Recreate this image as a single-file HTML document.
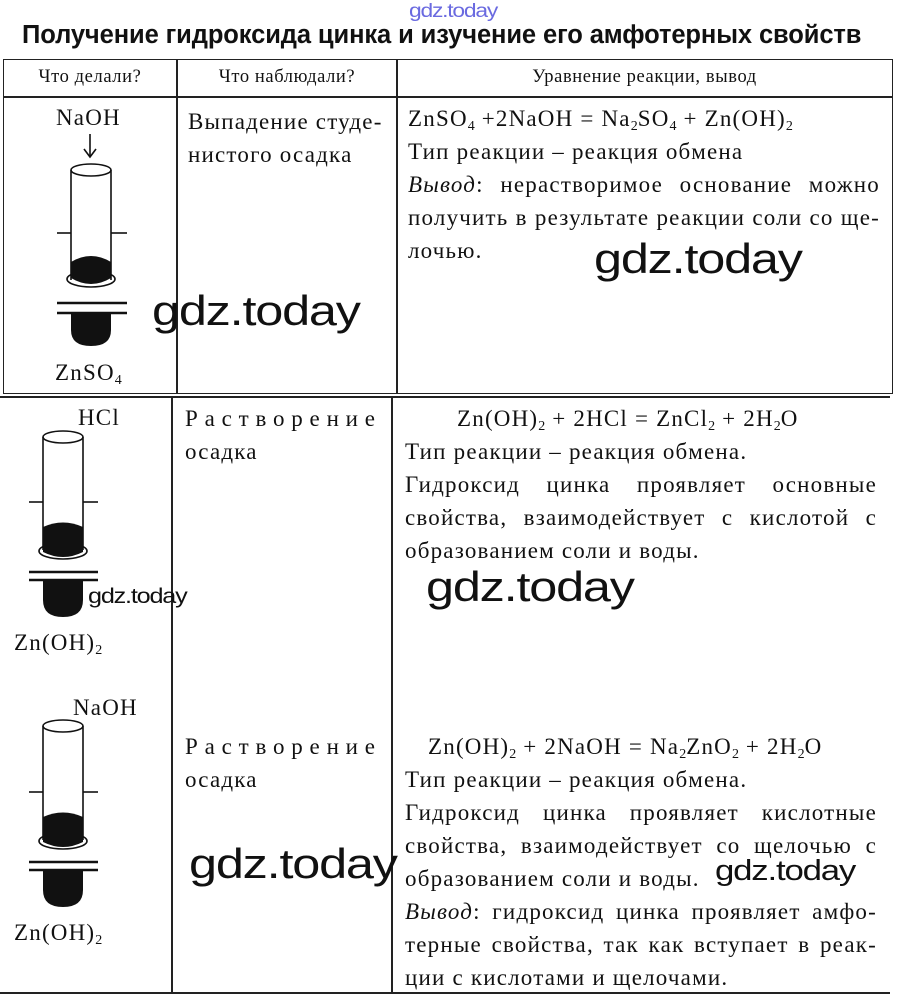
<!DOCTYPE html>
<html><head><meta charset="utf-8"><style>
body{margin:0;width:900px;height:999px;background:#fff;position:relative;overflow:hidden;font-family:"Liberation Serif","DejaVu Serif",serif;color:#111}
.a{position:absolute;white-space:nowrap}
.t{font-size:23px;letter-spacing:1.2px}
.j{position:absolute;font-size:23px;line-height:33px;letter-spacing:1.2px}
.j div{white-space:nowrap}
.jl{text-align:justify;text-align-last:justify;white-space:normal!important}
.sp{letter-spacing:6.8px}
.wm{position:absolute;font-family:"Liberation Sans",sans-serif;color:#111;white-space:nowrap;letter-spacing:-1px;transform:scaleX(1.2);transform-origin:left top}
.h{font-size:18.5px;position:absolute;text-align:center;letter-spacing:0.6px}
sub{font-size:14px;vertical-align:-4px;line-height:0;letter-spacing:0}
.ln{position:absolute;background:#222}
</style></head><body>
<div class="wm" style="left:409px;top:1px;font-size:19px;color:#6a6ae0">gdz.today</div>
<div class="a" style="left:22px;top:21px;font-family:'Liberation Sans',sans-serif;font-weight:bold;font-size:25.5px;letter-spacing:-0.1px">Получение гидроксида цинка и изучение его амфотерных свойств</div>

<div style="position:absolute;left:3px;top:59px;width:888px;height:333px;border:1.5px solid #222"></div>
<div class="ln" style="left:3px;top:96px;width:890px;height:1.5px"></div>
<div class="ln" style="left:176px;top:59px;width:1.5px;height:335px"></div>
<div class="ln" style="left:396px;top:59px;width:1.5px;height:335px"></div>
<div class="h" style="left:3px;width:174px;top:67px">Что делали?</div>
<div class="h" style="left:177px;width:220px;top:67px">Что наблюдали?</div>
<div class="h" style="left:397px;width:495px;top:67px">Уравнение реакции, вывод</div>

<div class="ln" style="left:0;top:396px;width:890px;height:1.5px"></div>
<div class="ln" style="left:171px;top:396px;width:1.5px;height:597px"></div>
<div class="ln" style="left:391px;top:396px;width:1.5px;height:597px"></div>
<div class="ln" style="left:0;top:992px;width:890px;height:1.5px"></div>

<svg style="position:absolute;left:0;top:0" width="900" height="999">
<g stroke="#111" stroke-width="1.6" fill="none">
 <line x1="90" y1="134" x2="90" y2="156"/><path d="M84 149 L90 157 L96 149"/>
 <ellipse cx="91" cy="170" rx="20" ry="6"/>
 <line x1="71" y1="170" x2="71" y2="280"/><line x1="111" y1="170" x2="111" y2="280"/>
 <line x1="57" y1="233" x2="71" y2="233"/><line x1="111" y1="233" x2="127" y2="233"/>
 <ellipse cx="91" cy="279" rx="24" ry="8"/>
 <line x1="57" y1="303" x2="127" y2="303" stroke-width="2.5"/><line x1="57" y1="313" x2="127" y2="313" stroke-width="2.5"/>
 <ellipse cx="63" cy="437" rx="20" ry="6"/>
 <line x1="43" y1="437" x2="43" y2="550"/><line x1="83" y1="437" x2="83" y2="550"/>
 <line x1="29" y1="502" x2="43" y2="502"/><line x1="83" y1="502" x2="98" y2="502"/>
 <ellipse cx="63" cy="551" rx="24" ry="8"/>
 <line x1="29" y1="572" x2="98" y2="572" stroke-width="2.5"/><line x1="29" y1="580" x2="98" y2="580" stroke-width="2.5"/>
 <ellipse cx="63" cy="726" rx="20" ry="6"/>
 <line x1="43" y1="726" x2="43" y2="840"/><line x1="83" y1="726" x2="83" y2="840"/>
 <line x1="29" y1="792" x2="43" y2="792"/><line x1="83" y1="792" x2="98" y2="792"/>
 <ellipse cx="63" cy="841" rx="24" ry="8"/>
 <line x1="29" y1="862" x2="98" y2="862" stroke-width="2.5"/><line x1="29" y1="870" x2="98" y2="870" stroke-width="2.5"/>
</g>
<g fill="#111">
 <path d="M71 262 Q91 250 111 262 L111 278 Q91 290 71 278Z"/>
 <path d="M71 314 L111 314 L111 330 Q111 346 91 346 Q71 346 71 330Z"/>
 <path d="M43 527 Q63 518 83 527 L83 552 Q63 562 43 552Z"/>
 <path d="M43 581 L83 581 L83 600 Q83 617 63 617 Q43 617 43 600Z"/>
 <path d="M43 817 Q63 808 83 817 L83 842 Q63 852 43 842Z"/>
 <path d="M43 871 L83 871 L83 890 Q83 907 63 907 Q43 907 43 890Z"/>
</g>
</svg>

<div class="a t" style="left:56px;top:105px">NaOH</div>
<div class="a t" style="left:55px;top:360px">ZnSO<sub>4</sub></div>
<div class="a t" style="left:188px;top:105px;line-height:33px">Выпадение студе-<br>нистого осадка</div>
<div class="j" style="left:408px;top:102px;width:472px">
<div>ZnSO<sub>4</sub> +2NaOH = Na<sub>2</sub>SO<sub>4</sub> + Zn(OH)<sub>2</sub></div>
<div>Тип реакции – реакция обмена</div>
<div class="jl"><i>Вывод</i>: нерастворимое основание можно</div>
<div class="jl">получить в результате реакции соли со ще-</div>
<div>лочью.</div>
</div>

<div class="a t" style="left:78px;top:405px">HCl</div>
<div class="a t" style="left:14px;top:630px">Zn(OH)<sub>2</sub></div>
<div class="j" style="left:185px;top:402px"><div class="sp">Растворение</div><div>осадка</div></div>
<div class="j" style="left:405px;top:402px;width:472px">
<div style="padding-left:52px">Zn(OH)<sub>2</sub> + 2HCl = ZnCl<sub>2</sub> + 2H<sub>2</sub>O</div>
<div>Тип реакции – реакция обмена.</div>
<div class="jl">Гидроксид цинка проявляет основные</div>
<div class="jl">свойства, взаимодействует с кислотой с</div>
<div>образованием соли и воды.</div>
</div>

<div class="a t" style="left:73px;top:695px">NaOH</div>
<div class="a t" style="left:14px;top:920px">Zn(OH)<sub>2</sub></div>
<div class="j" style="left:185px;top:730px"><div class="sp">Растворение</div><div>осадка</div></div>
<div class="j" style="left:405px;top:730px;width:472px">
<div style="padding-left:23px">Zn(OH)<sub>2</sub> + 2NaOH = Na<sub>2</sub>ZnO<sub>2</sub> + 2H<sub>2</sub>O</div>
<div>Тип реакции – реакция обмена.</div>
<div class="jl">Гидроксид цинка проявляет кислотные</div>
<div class="jl">свойства, взаимодействует со щелочью с</div>
<div>образованием соли и воды.</div>
<div class="jl"><i>Вывод</i>: гидроксид цинка проявляет амфо-</div>
<div class="jl">терные свойства, так как вступает в реак-</div>
<div>ции с кислотами и щелочами.</div>
</div>

<div class="wm" style="left:152px;top:287px;font-size:42px">gdz.today</div>
<div class="wm" style="left:594px;top:235px;font-size:42px">gdz.today</div>
<div class="wm" style="left:88px;top:585px;font-size:21px">gdz.today</div>
<div class="wm" style="left:426px;top:563px;font-size:42px">gdz.today</div>
<div class="wm" style="left:189px;top:840px;font-size:42px">gdz.today</div>
<div class="wm" style="left:715px;top:855px;font-size:29px">gdz.today</div>
</body></html>
